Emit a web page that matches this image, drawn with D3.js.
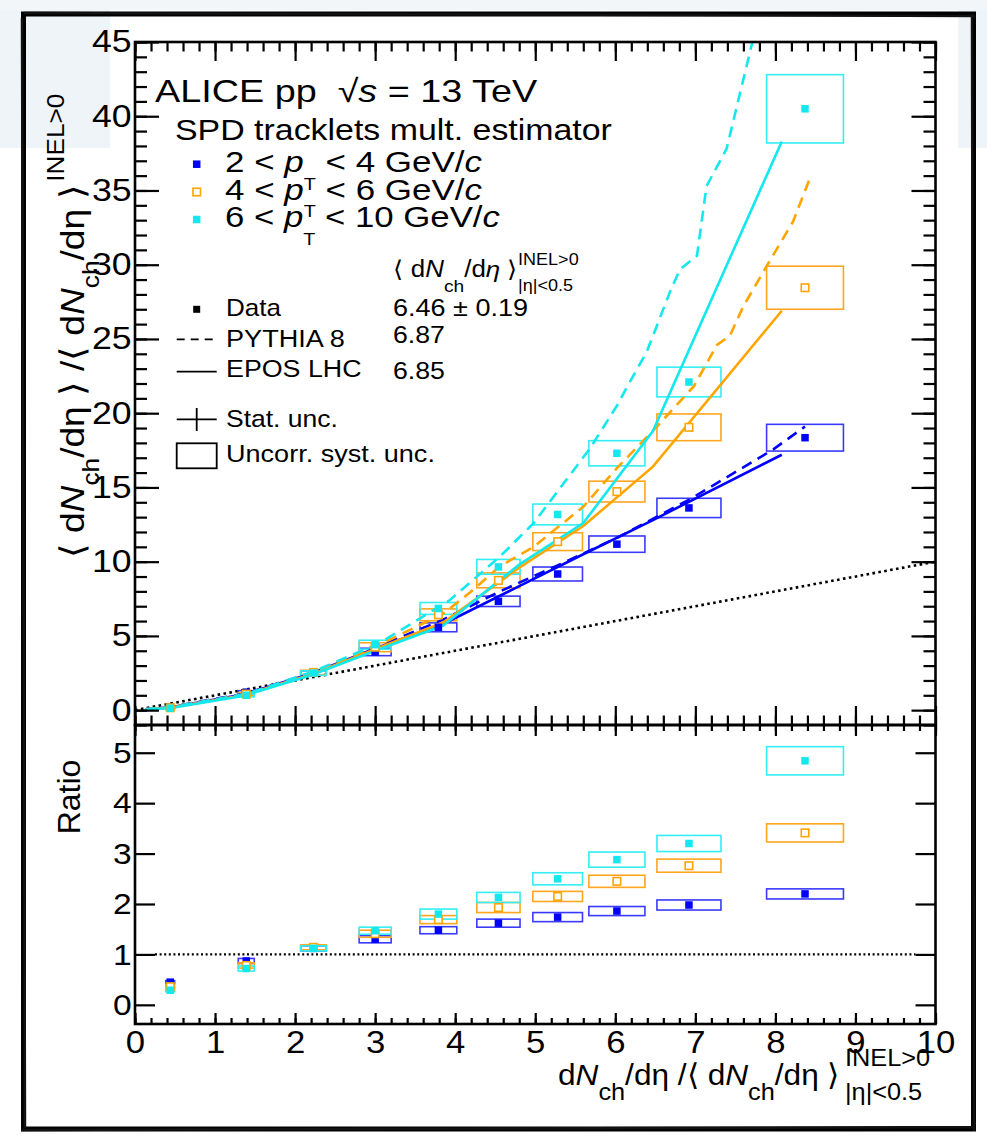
<!DOCTYPE html>
<html>
<head>
<meta charset="utf-8">
<script src="https://cdn.jsdelivr.net/npm/d3@7"></script>
<style>
  body { margin: 0; background: #fff; }
  svg { display: block; }
  text { font-family: "Liberation Sans", Arial, Helvetica, sans-serif; fill: #000; white-space: pre; }
</style>
</head>
<body>
<svg id="chart" width="987" height="1137"></svg>
<script>
// Self-normalised multiplicity classes (x) and their systematic half-widths
const multX    = [0.44, 1.39, 2.23, 3.00, 3.79, 4.54, 5.28, 6.02, 6.92, 8.37];
const multXErr = [0.055, 0.10, 0.16, 0.20, 0.23, 0.27, 0.31, 0.35, 0.40, 0.48];

// pT intervals
const ptLow  = [2, 4, 6];
const ptHigh = [4, 6, 10];

// Self-normalised yields per pT interval, with uncorrelated systematics
const yieldA    = [0.20, 1.21, 2.50, 3.92, 5.58, 7.33, 9.17, 11.18, 13.62, 18.35];
const yieldASys = [0.05, 0.10, 0.15, 0.25, 0.30, 0.35, 0.47, 0.55, 0.65, 0.90];
const yieldB    = [0.16, 1.08, 2.54, 4.24, 6.42, 8.74, 11.35, 14.72, 19.05, 28.45];
const yieldBSys = [0.05, 0.10, 0.15, 0.30, 0.40, 0.50, 0.60, 0.70, 0.90, 1.45];
const yieldC    = [0.13, 1.00, 2.50, 4.41, 6.85, 9.65, 13.18, 17.30, 22.10, 40.50];
const yieldCSys = [0.05, 0.10, 0.15, 0.30, 0.40, 0.50, 0.70, 0.85, 1.00, 2.30];

// Ratio to the multiplicity
const ratioA    = [0.45, 0.87, 1.12, 1.30, 1.48, 1.62, 1.74, 1.86, 1.98, 2.20];
const ratioASys = [0.03, 0.05, 0.05, 0.07, 0.07, 0.08, 0.09, 0.09, 0.10, 0.10];
const ratioB    = [0.36, 0.78, 1.14, 1.41, 1.69, 1.93, 2.15, 2.45, 2.76, 3.41];
const ratioBSys = [0.03, 0.05, 0.05, 0.07, 0.08, 0.10, 0.10, 0.12, 0.13, 0.18];
const ratioC    = [0.29, 0.72, 1.12, 1.47, 1.80, 2.13, 2.50, 2.88, 3.20, 4.84];
const ratioCSys = [0.03, 0.05, 0.05, 0.07, 0.10, 0.10, 0.12, 0.15, 0.16, 0.28];

// EPOS LHC predictions
const eposX = [0.13, 0.45, 1.35, 2.20, 3.00, 3.85, 4.80, 5.60, 6.47, 8.08];
const eposA = [0.05, 0.20, 1.05, 2.45, 4.15, 5.80, 8.35, 10.50, 12.80, 17.20];
const eposB = [0.05, 0.17, 1.00, 2.40, 4.10, 5.90, 9.60, 12.40, 16.40, 26.90];
const eposC = [0.05, 0.15, 0.95, 2.35, 4.00, 5.70, 9.80, 12.60, 18.80, 38.30];

// PYTHIA 8 predictions
const pythiaAX = [0.13, 0.45, 1.40, 2.25, 3.05, 3.85, 4.56, 5.30, 6.02, 6.93, 7.97, 8.37];
const pythiaA  = [0.05, 0.22, 1.15, 2.60, 4.30, 6.10, 8.00, 9.80, 11.60, 14.20, 17.55, 19.10];
const pythiaBX = [0.13, 0.45, 1.40, 2.25, 3.05, 3.85, 4.18, 4.56, 4.98, 5.60, 6.02, 6.52, 6.98, 7.27, 7.43, 7.60, 7.89, 8.22, 8.43];
const pythiaB  = [0.05, 0.20, 1.10, 2.60, 4.40, 6.50, 7.90, 9.70, 11.00, 13.70, 16.30, 19.10, 21.80, 24.60, 25.20, 27.20, 29.90, 32.90, 35.80];
const pythiaCX = [0.13, 0.45, 1.40, 2.25, 3.05, 3.93, 4.56, 4.98, 5.68, 6.02, 6.16, 6.39, 6.70, 6.81, 7.02, 7.14, 7.39, 7.78];
const pythiaC  = [0.05, 0.20, 1.10, 2.65, 4.50, 7.40, 10.35, 12.60, 17.60, 20.50, 21.90, 24.10, 28.40, 29.70, 30.60, 35.30, 37.80, 46.50];

// Mean multiplicities quoted in the legend
const meanLabels = ["6.46 ± 0.19", "6.87", "6.85"];

// Axis ticks
const xTicks = d3.range(0, 11, 1);
const yUpperTicks = d3.range(0, 46, 5);
const yLowerTicks = d3.range(0, 6, 1);

// ---------------------------------------------------------------
const svg = d3.select("#chart");
const L = 135, R = 935.5, T = 42, M = 725, B = 1024;
const x = d3.scaleLinear().domain([0, 10]).range([L, R]);
const yU = d3.scaleLinear().domain([-1, 45]).range([M, T]);
const yL = d3.scaleLinear().domain([-0.38, 5.55]).range([B, M]);

const series = [
  { color: "#0000ff", box: "#3a3aff", open: false, y: yieldA, ys: yieldASys, r: ratioA, rs: ratioASys,
    epos: eposA, pyX: pythiaAX, py: pythiaA },
  { color: "#ffa500", box: "#ffa51f", open: true,  y: yieldB, ys: yieldBSys, r: ratioB, rs: ratioBSys,
    epos: eposB, pyX: pythiaBX, py: pythiaB },
  { color: "#14e8ef", box: "#33eef4", open: false, y: yieldC, ys: yieldCSys, r: ratioC, rs: ratioCSys,
    epos: eposC, pyX: pythiaCX, py: pythiaC }
];

// Page decoration: pale corners and a heavy outer frame
svg.append("rect").attr("x", 0).attr("y", 0).attr("width", 110).attr("height", 148).attr("fill", "#eef4f8");
svg.append("rect").attr("x", 958).attr("y", 0).attr("width", 29).attr("height", 148).attr("fill", "#eef4f8");
svg.append("rect").attr("x", 0).attr("y", 0).attr("width", 987).attr("height", 10).attr("fill", "#f2f6f9");

// Rich text helper: parts with italic, sub/superscripts; optional width fit
function richText(parent, px, py, parts, o) {
  const g = parent.append("g")
    .attr("transform", `translate(${px},${py})` + (o.rotate ? ` rotate(${o.rotate})` : ""));
  const t = g.append("text").attr("font-size", o.size).attr("text-anchor", o.anchor || "start");
  let shift = 0, prev = null;
  parts.forEach(p => {
    const s = t.append("tspan").text(p.t);
    if (p.it) s.attr("font-style", "italic");
    if (p.size) s.attr("font-size", p.size);
    const target = p.dy || 0;
    if (target !== shift) { s.attr("dy", target - shift); shift = target; }
    if (p.back && prev) s.attr("dx", -prev.node().getComputedTextLength());
    else if (p.dx) s.attr("dx", p.dx);
    prev = s;
  });
  if (o.width) {
    const w = t.node().getBBox().width;
    t.attr("transform", `scale(${o.width / w},1)`);
  } else if (o.sx) {
    t.attr("transform", `scale(${o.sx},1)`);
  }
  return t;
}

// Clip paths for the two panels
const defs = svg.append("defs");
defs.append("clipPath").attr("id", "clipU").append("rect")
  .attr("x", L).attr("y", T).attr("width", R - L).attr("height", M - T);
defs.append("clipPath").attr("id", "clipL").append("rect")
  .attr("x", L).attr("y", M).attr("width", R - L).attr("height", B - M);

// ---------- Upper panel ----------
const up = svg.append("g").attr("clip-path", "url(#clipU)");

// y = x reference
up.append("line")
  .attr("x1", x(0)).attr("y1", yU(0)).attr("x2", x(10)).attr("y2", yU(10))
  .attr("stroke", "#000").attr("stroke-width", 2.6).attr("stroke-dasharray", "2.6,3.4");

// systematic boxes
series.forEach(s => {
  up.append("g").selectAll("rect").data(multX).join("rect")
    .attr("x", (d, i) => x(d - multXErr[i]))
    .attr("width", (d, i) => x(d + multXErr[i]) - x(d - multXErr[i]))
    .attr("y", (d, i) => yU(s.y[i] + s.ys[i]))
    .attr("height", (d, i) => yU(s.y[i] - s.ys[i]) - yU(s.y[i] + s.ys[i]))
    .attr("fill", "none").attr("stroke", s.box).attr("stroke-width", 1.6);
});

// model curves
const lineU = d3.line().x(d => x(d[0])).y(d => yU(d[1]));
series.forEach(s => {
  up.append("path").datum(d3.zip(eposX, s.epos)).attr("d", lineU)
    .attr("fill", "none").attr("stroke", s.color).attr("stroke-width", 2.6);
  up.append("path").datum(d3.zip(s.pyX, s.py)).attr("d", lineU)
    .attr("fill", "none").attr("stroke", s.color).attr("stroke-width", 2.6)
    .attr("stroke-dasharray", "11,7");
});

// data markers
function markers(g, s, yScale, vals) {
  const sz = 7.5;
  g.append("g").selectAll("rect").data(multX).join("rect")
    .attr("x", d => x(d) - sz / 2).attr("y", (d, i) => yScale(vals[i]) - sz / 2)
    .attr("width", sz).attr("height", sz)
    .attr("fill", s.open ? "#fff" : s.color)
    .attr("stroke", s.open ? s.color : "none").attr("stroke-width", 1.6);
}
series.forEach(s => markers(up, s, yU, s.y));

// ---------- Lower panel ----------
const lo = svg.append("g").attr("clip-path", "url(#clipL)");
lo.append("line")
  .attr("x1", x(0.25)).attr("y1", yL(1)).attr("x2", x(9.75)).attr("y2", yL(1))
  .attr("stroke", "#000").attr("stroke-width", 2.2).attr("stroke-dasharray", "2,2.6");
series.forEach(s => {
  lo.append("g").selectAll("rect").data(multX).join("rect")
    .attr("x", (d, i) => x(d - multXErr[i]))
    .attr("width", (d, i) => x(d + multXErr[i]) - x(d - multXErr[i]))
    .attr("y", (d, i) => yL(s.r[i] + s.rs[i]))
    .attr("height", (d, i) => yL(s.r[i] - s.rs[i]) - yL(s.r[i] + s.rs[i]))
    .attr("fill", "none").attr("stroke", s.box).attr("stroke-width", 1.6);
});
series.forEach(s => markers(lo, s, yL, s.r));

// ---------- Axes and frames ----------
function tickSet(axis, tr) {
  const g = svg.append("g").attr("transform", tr).call(axis);
  g.select(".domain").remove();
  g.selectAll("line").attr("stroke-width", 2.2);
  return g;
}
const xMinor = d3.range(0, 10.001, 0.2);
const yUMinor = d3.range(-1, 45.001, 1);
// upper panel
tickSet(d3.axisTop(x).tickValues(xTicks).tickSize(19).tickFormat(""), `translate(0,${M})`);
tickSet(d3.axisTop(x).tickValues(xMinor).tickSize(9.5).tickFormat(""), `translate(0,${M})`);
tickSet(d3.axisBottom(x).tickValues(xTicks).tickSize(19).tickFormat(""), `translate(0,${T})`);
tickSet(d3.axisBottom(x).tickValues(xMinor).tickSize(9.5).tickFormat(""), `translate(0,${T})`);
tickSet(d3.axisRight(yU).tickValues(yUpperTicks).tickSize(24).tickFormat(""), `translate(${L},0)`);
tickSet(d3.axisRight(yU).tickValues(yUMinor).tickSize(12).tickFormat(""), `translate(${L},0)`);
tickSet(d3.axisLeft(yU).tickValues(yUpperTicks).tickSize(24).tickFormat(""), `translate(${R},0)`);
tickSet(d3.axisLeft(yU).tickValues(yUMinor).tickSize(12).tickFormat(""), `translate(${R},0)`);
// lower panel
tickSet(d3.axisTop(x).tickValues(xTicks).tickSize(11).tickFormat(""), `translate(0,${B})`);
tickSet(d3.axisTop(x).tickValues(xMinor).tickSize(6).tickFormat(""), `translate(0,${B})`);
tickSet(d3.axisBottom(x).tickValues(xTicks).tickSize(11).tickFormat(""), `translate(0,${M})`);
tickSet(d3.axisBottom(x).tickValues(xMinor).tickSize(6).tickFormat(""), `translate(0,${M})`);
tickSet(d3.axisRight(yL).tickValues(yLowerTicks).tickSize(20).tickFormat(""), `translate(${L},0)`);
tickSet(d3.axisLeft(yL).tickValues(yLowerTicks).tickSize(20).tickFormat(""), `translate(${R},0)`);

// tick labels
function labelSet(axis, tr, size, sx) {
  const g = svg.append("g").attr("transform", tr).call(axis);
  g.select(".domain").remove();
  g.selectAll("line").remove();
  g.selectAll("text").attr("font-size", size).attr("font-family", null)
    .attr("transform", `scale(${sx},1)`);
  return g;
}
const intFmt = d3.format("d");
labelSet(d3.axisLeft(yU).tickValues(yUpperTicks).tickFormat(intFmt).tickSize(0).tickPadding(3), `translate(${L},0)`, 31, 1.15);
labelSet(d3.axisLeft(yL).tickValues(yLowerTicks).tickFormat(intFmt).tickSize(0).tickPadding(3), `translate(${L},0)`, 30, 1.12);
labelSet(d3.axisBottom(x).tickValues(xTicks).tickFormat(intFmt).tickSize(0).tickPadding(7), `translate(0,${B})`, 31, 1.12);

// panel frames
svg.append("rect").attr("x", L).attr("y", T).attr("width", R - L).attr("height", M - T)
  .attr("fill", "none").attr("stroke", "#000").attr("stroke-width", 2.6);
svg.append("rect").attr("x", L).attr("y", M).attr("width", R - L).attr("height", B - M)
  .attr("fill", "none").attr("stroke", "#000").attr("stroke-width", 2.6);

// ---------- Axis titles ----------
richText(svg, 84, 558, [
  { t: "⟨ d" }, { t: "N", it: true }, { t: "ch", size: 24, dy: 15 }, { t: "/dη ⟩ /⟨ d" },
  { t: "N", it: true }, { t: "ch", size: 24, dy: 15 }, { t: "/dη ⟩" },
  { t: "INEL>0", size: 24, dy: -20, dx: 2 }
], { size: 34, rotate: -90, width: 463 });

richText(svg, 80, 797, [{ t: "Ratio" }], { size: 32, rotate: -90, anchor: "middle", sx: 1.0 });

richText(svg, 558, 1085, [
  { t: "d" }, { t: "N", it: true }, { t: "ch", size: 24, dy: 15 }, { t: "/dη /⟨ d" },
  { t: "N", it: true }, { t: "ch", size: 24, dy: 15 }, { t: "/dη ⟩" },
  { t: "INEL>0", size: 24, dy: -19, dx: 5 }, { t: "|η|<0.5", size: 24, dy: 15, back: true }
], { size: 30, width: 373 });

// ---------- Legend ----------
richText(svg, 155, 102, [{ t: "ALICE pp  √" }, { t: "s", it: true }, { t: " = 13 TeV" }],
  { size: 32, width: 383 });
richText(svg, 175, 140, [{ t: "SPD tracklets mult. estimator" }], { size: 30, width: 437 });

const ptBase = [171.7, 199.5, 227];
const ptWidths = [257, 257, 275];
series.forEach((s, i) => {
  const sz = 7.5, cy = ptBase[i] - 7.5;
  svg.append("rect").attr("x", 196.7 - sz / 2).attr("y", cy - sz / 2).attr("width", sz).attr("height", sz)
    .attr("fill", s.open ? "#fff" : s.color).attr("stroke", s.open ? s.color : "none").attr("stroke-width", 1.6);
  richText(svg, 225, ptBase[i], [
    { t: `${ptLow[i]} < ` }, { t: "p", it: true }, { t: "T", size: 17, dy: 18 },
    { t: ` < ${ptHigh[i]} GeV/` }, { t: "c", it: true }
  ], { size: 30, width: ptWidths[i] });
});

richText(svg, 393, 277, [
  { t: "⟨ d" }, { t: "N", it: true }, { t: "ch", size: 17, dy: 14.5 }, { t: "/d" },
  { t: "η", it: true }, { t: " ⟩" }, { t: "INEL>0", size: 16, dy: -12 },
  { t: "|η|<0.5", size: 16, dy: 14, back: true }
], { size: 23, width: 185 });

// model / data legend rows
const rowBase = [316, 346.7, 377.3];
const rowNames = ["Data", "PYTHIA 8", "EPOS LHC"];
const rowWidths = [55.7, 119, 135.7];
const numBase = [316, 343, 379];
const numWidths = [135, 52, 52];
svg.append("rect").attr("x", 196.7 - 3.5).attr("y", 309.3 - 3.5).attr("width", 7).attr("height", 7).attr("fill", "#000");
svg.append("line").attr("x1", 176.7).attr("x2", 216.7).attr("y1", 339.3).attr("y2", 339.3)
  .attr("stroke", "#000").attr("stroke-width", 1.8).attr("stroke-dasharray", "8,6");
svg.append("line").attr("x1", 176.7).attr("x2", 216.7).attr("y1", 371.7).attr("y2", 371.7)
  .attr("stroke", "#000").attr("stroke-width", 1.8);
rowNames.forEach((n, i) => {
  richText(svg, 226, rowBase[i], [{ t: n }], { size: 24, width: rowWidths[i] });
  richText(svg, 393, numBase[i], [{ t: meanLabels[i] }], { size: 24, width: numWidths[i] });
});

// uncertainty legend
svg.append("line").attr("x1", 176.7).attr("x2", 216.7).attr("y1", 419.3).attr("y2", 419.3)
  .attr("stroke", "#000").attr("stroke-width", 1.8);
svg.append("line").attr("x1", 196.7).attr("x2", 196.7).attr("y1", 408).attr("y2", 431)
  .attr("stroke", "#000").attr("stroke-width", 1.8);
richText(svg, 226, 426.7, [{ t: "Stat. unc." }], { size: 24, width: 112 });
svg.append("rect").attr("x", 176.7).attr("y", 443.3).attr("width", 40).attr("height", 25)
  .attr("fill", "none").attr("stroke", "#000").attr("stroke-width", 1.8);
richText(svg, 226, 461.7, [{ t: "Uncorr. syst. unc." }], { size: 24, width: 209 });

// heavy outer frame
svg.append("rect").attr("x", 23.5).attr("y", 14).attr("width", 950).attr("height", 1115)
  .attr("fill", "none").attr("stroke", "#000").attr("stroke-width", 5);
svg.append("path").attr("d", "M22,18 L25,1128 M24,13 L975,16 M972,14 L974,1131 M21,1130 L975,1127")
  .attr("fill", "none").attr("stroke", "#111").attr("stroke-width", 2.5);
</script>
</body>
</html>
